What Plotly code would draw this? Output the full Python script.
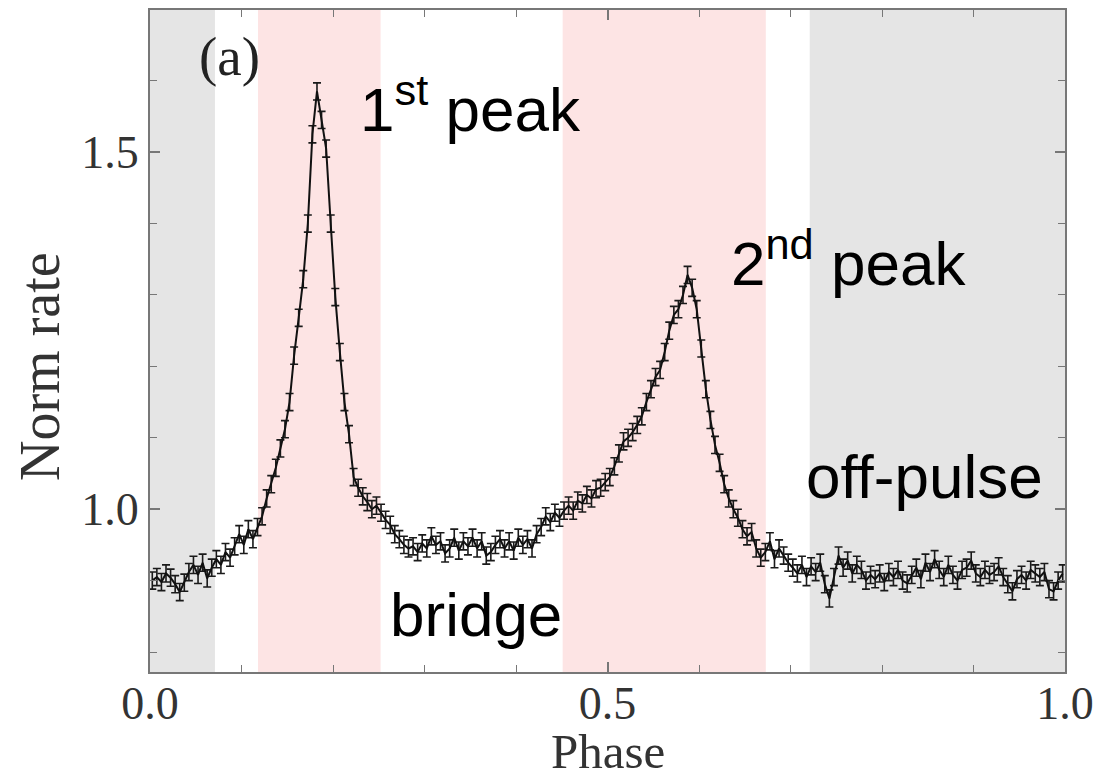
import plotly.graph_objects as go

# Pulse profile: 200 phase bins (bin centres) and normalised rate
phase = [(i + 0.5) / 200 for i in range(200)]
norm_rate = [
    0.900, 0.905, 0.898, 0.910, 0.904, 0.895, 0.884, 0.897, 0.912, 0.922,
    0.908, 0.925, 0.903, 0.918, 0.930, 0.922, 0.940, 0.932, 0.948, 0.965,
    0.950, 0.972, 0.958, 0.975, 0.990, 1.015, 1.035, 1.058, 1.085, 1.112,
    1.150, 1.215, 1.268, 1.322, 1.400, 1.525, 1.585, 1.545, 1.505, 1.400,
    1.297, 1.220, 1.150, 1.105, 1.045, 1.030, 1.018, 1.010, 1.000, 1.005,
    0.995, 0.985, 0.978, 0.965, 0.958, 0.950, 0.945, 0.948, 0.940, 0.952,
    0.945, 0.962, 0.950, 0.955, 0.938, 0.945, 0.960, 0.942, 0.955, 0.948,
    0.960, 0.945, 0.955, 0.935, 0.940, 0.950, 0.958, 0.945, 0.955, 0.942,
    0.960, 0.950, 0.958, 0.945, 0.965, 0.975, 0.990, 0.982, 0.995, 0.988,
    0.998, 1.005, 0.998, 1.012, 1.008, 1.020, 1.015, 1.028, 1.030, 1.038,
    1.045, 1.060, 1.078, 1.095, 1.100, 1.108, 1.118, 1.130, 1.150, 1.168,
    1.185, 1.195, 1.220, 1.250, 1.272, 1.280, 1.300, 1.328, 1.310, 1.280,
    1.225, 1.168, 1.125, 1.090, 1.065, 1.035, 1.015, 1.000, 0.988, 0.972,
    0.962, 0.968, 0.945, 0.932, 0.940, 0.955, 0.930, 0.945, 0.935, 0.925,
    0.918, 0.910, 0.922, 0.905, 0.920, 0.912, 0.925, 0.895, 0.875, 0.905,
    0.935, 0.918, 0.928, 0.910, 0.922, 0.915, 0.900, 0.908, 0.902, 0.910,
    0.898, 0.912, 0.905, 0.915, 0.900, 0.896, 0.908, 0.918, 0.902, 0.925,
    0.912, 0.930, 0.915, 0.905, 0.922, 0.908, 0.900, 0.915, 0.918, 0.928,
    0.910, 0.905, 0.915, 0.908, 0.912, 0.920, 0.905, 0.895, 0.885, 0.902,
    0.908, 0.900, 0.915, 0.910, 0.905, 0.912, 0.888, 0.885, 0.900, 0.910,
]
rate_err = 0.012

# Phase intervals
offpulse_regions = [(0.0, 0.071), (0.721, 1.0)]
peak_regions = [(0.118, 0.252), (0.451, 0.673)]

# Labels
x_tickvals = [0.0, 0.5, 1.0]
x_ticktext = ["0.0", "0.5", "1.0"]
y_tickvals = [1.0, 1.5]
y_ticktext = ["1.0", "1.5"]

fig = go.Figure()

for x0, x1 in offpulse_regions:
    fig.add_vrect(x0=x0, x1=x1, fillcolor="#e5e5e5", line_width=0, layer="below")
for x0, x1 in peak_regions:
    fig.add_vrect(x0=x0, x1=x1, fillcolor="#fde4e4", line_width=0, layer="below")

fig.add_trace(go.Scatter(
    x=phase, y=norm_rate, mode="lines",
    line=dict(color="#111111", width=2),
    error_y=dict(type="constant", value=rate_err, color="#1a1a1a", thickness=1.6, width=4),
    showlegend=False,
))

serif = "Liberation Serif"
sans = "Liberation Sans"

fig.add_annotation(x=0.0864, y=1.634, xref="x", yref="y", text="(a)", showarrow=False,
                   font=dict(family=serif, size=55, color="#222222"))
fig.add_annotation(x=0.2275, y=1.566, xref="x", yref="y", text="1<sup>st</sup> peak",
                   showarrow=False, xanchor="left",
                   font=dict(family=sans, size=62, color="#000000"))
fig.add_annotation(x=0.6325, y=1.350, xref="x", yref="y", text="2<sup>nd</sup> peak",
                   showarrow=False, xanchor="left",
                   font=dict(family=sans, size=62, color="#000000"))
fig.add_annotation(x=0.7150, y=1.046, xref="x", yref="y", text="off-pulse",
                   showarrow=False, xanchor="left",
                   font=dict(family=sans, size=62, color="#000000"))
fig.add_annotation(x=0.2600, y=0.852, xref="x", yref="y", text="bridge",
                   showarrow=False, xanchor="left",
                   font=dict(family=sans, size=62, color="#000000"))

# axis titles placed as annotations
fig.add_annotation(x=-0.120, y=0.461, xref="paper", yref="paper", text="Norm rate",
                   textangle=-90, showarrow=False, xanchor="center", yanchor="middle",
                   font=dict(family=serif, size=56, color="#333333"))
fig.add_annotation(x=0.5, y=-0.120, xref="paper", yref="paper", text="Phase",
                   showarrow=False, xanchor="center", yanchor="middle",
                   font=dict(family=serif, size=49, color="#333333"))

axis_common = dict(
    showgrid=False, zeroline=False, showline=True, linecolor="#777777", linewidth=2,
    mirror="ticks", ticks="inside", tickcolor="#777777", tickwidth=1.5, ticklen=10,
    automargin=False,
)
minor_ticks = dict(dtick=0.1, tick0=0, ticks="inside", ticklen=7, tickcolor="#777777", tickwidth=1.2)

fig.update_xaxes(
    range=[0, 1], tickvals=x_tickvals, ticktext=x_ticktext,
    tickfont=dict(family=serif, size=46, color="#333333"),
    ticklabelstandoff=-10,
    minor=minor_ticks,
    **axis_common,
)
fig.update_yaxes(
    range=[0.772, 1.699], tickvals=y_tickvals, ticktext=y_ticktext,
    tickfont=dict(family=serif, size=46, color="#333333"),
    minor=minor_ticks,
    **axis_common,
)

fig.update_layout(
    width=1111, height=780,
    margin=dict(l=150, r=46, t=10, b=108),
    plot_bgcolor="white", paper_bgcolor="white",
)

fig.write_html("out.html")
